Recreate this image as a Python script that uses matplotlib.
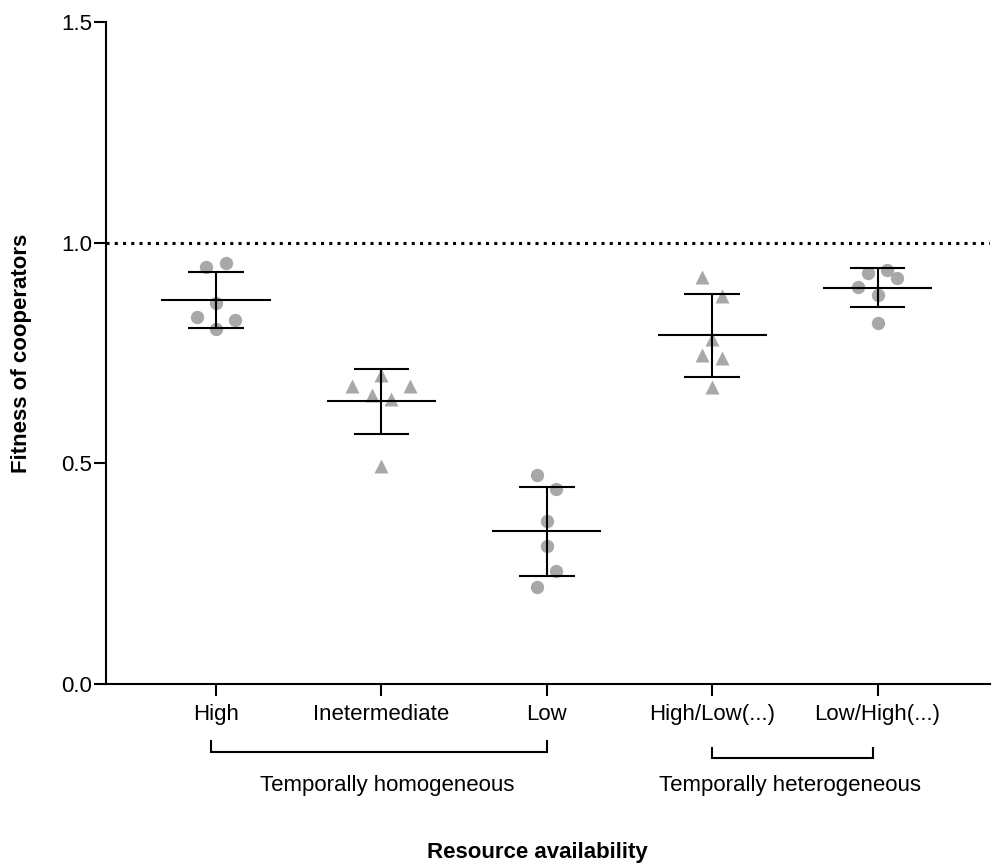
import numpy as np
import matplotlib.pyplot as plt
import matplotlib.transforms as mtransforms

plt.rcParams['font.family'] = ['Liberation Sans', 'DejaVu Sans']

# fitness of cooperators, six replicates per treatment
categories = ['High', 'Inetermediate', 'Low', 'High/Low(...)', 'Low/High(...)']
high = [0.944, 0.953, 0.864, 0.831, 0.824, 0.805]
intermediate = [0.699, 0.675, 0.675, 0.654, 0.646, 0.494]
low = [0.474, 0.441, 0.370, 0.313, 0.256, 0.220]
high_low = [0.923, 0.879, 0.781, 0.745, 0.739, 0.673]
low_high = [0.931, 0.939, 0.919, 0.900, 0.882, 0.819]
groups = [high, intermediate, low, high_low, low_high]
markers = ['o', '^', 'o', '^', 'o']

# horizontal scatter of replicates (in steps) so points don't overlap
spread = [[-1, 1, 0, -2, 2, 0],
          [0, -3, 3, -1, 1, 0],
          [-1, 1, 0, 0, 1, -1],
          [-1, 1, 0, -1, 1, 0],
          [-1, 1, 2, -2, 0, 0]]
step = 0.0586

fig = plt.figure(figsize=(9.92, 8.68), dpi=100)
ax = fig.add_axes([0.1069, 0.2120, 0.8911, 0.7627])

xpos = np.arange(1, len(categories) + 1)
for x, vals, m, off in zip(xpos, groups, markers, spread):
    vals = np.array(vals)
    xs = x + np.array(off) * step
    ms = 9.6 if m == 'o' else 10
    ax.plot(xs, vals, ls='none', marker=m, ms=ms, color='#a8a8a8',
            mec='none', zorder=2, clip_on=False)
    mean = vals.mean()
    sd = vals.std(ddof=1)
    ax.hlines(mean, x - 0.33, x + 0.33, color='black', lw=1.5, zorder=3)
    ax.hlines([mean - sd, mean + sd], x - 0.168, x + 0.168, color='black', lw=1.5, zorder=3)
    ax.vlines(x, mean - sd, mean + sd, color='black', lw=1.5, zorder=3)

ax.axhline(1.0, color='black', lw=2.2, ls=(0, (1, 1.7)), zorder=1)

ax.set_xlim(0.335, 5.68)
ax.set_ylim(0, 1.5)
ax.set_yticks([0, 0.5, 1.0, 1.5])
ax.set_yticklabels(['0.0', '0.5', '1.0', '1.5'])
ax.set_xticks(xpos)
ax.set_xticklabels(categories)

for s in ['top', 'right']:
    ax.spines[s].set_visible(False)
for s in ['left', 'bottom']:
    ax.spines[s].set_linewidth(1.5)
ax.tick_params(axis='both', length=8.4, width=1.5, labelsize=16)
ax.tick_params(axis='y', pad=1.5)
ax.tick_params(axis='x', pad=6)

# group brackets under the category labels
tr = mtransforms.blended_transform_factory(ax.transData, fig.transFigure)
brackets = [(0.97, 3.0, 0.1336, 0.1463), (4.0, 4.97, 0.1267, 0.1382)]
for x0, x1, yb, yt in brackets:
    ax.plot([x0, x0, x1, x1], [yt, yb, yb, yt], color='black', lw=1.5,
            transform=tr, clip_on=False, solid_joinstyle='miter')

ax.text(2.037, 0.0887, 'Temporally homogeneous', transform=tr, ha='center',
        va='baseline', fontsize=16)
ax.text(4.47, 0.0887, 'Temporally heterogeneous', transform=tr, ha='center',
        va='baseline', fontsize=16)

fig.text(0.542, 0.0115, 'Resource availability', ha='center', va='baseline',
         fontsize=16, fontweight='bold')
fig.text(0.022, 0.593, 'Fitness of cooperators', ha='center', va='center',
         rotation=90, fontsize=16, fontweight='bold')

fig.savefig('out.png', dpi=100)
